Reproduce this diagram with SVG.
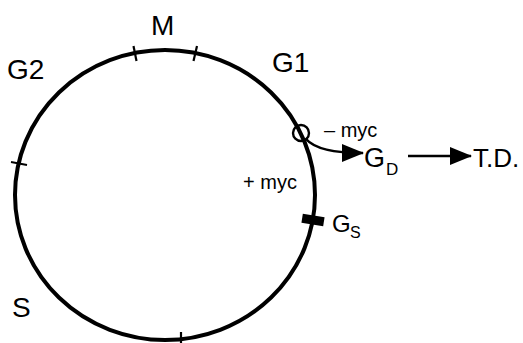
<svg xmlns="http://www.w3.org/2000/svg" width="523" height="343" viewBox="0 0 523 343">
<defs>
<style>
text{font-family:"Liberation Sans",Arial,sans-serif;fill:#000}
.lab{font-size:28px}
.myc{font-size:20px}
.tick{stroke:#000;stroke-width:2.2;fill:none}
.conn{stroke:#000;stroke-width:2.6;fill:none}
</style>
<marker id="ah" viewBox="0 0 22 18" refX="21" refY="9" markerWidth="22" markerHeight="18" markerUnits="userSpaceOnUse" orient="auto">
<path d="M0,0 L22,9 L0,18 Z" fill="#000"/>
</marker>
</defs>
<rect width="523" height="343" fill="#fff"/>
<g id="cycle">
<ellipse cx="165" cy="195" rx="150" ry="145" fill="none" stroke="#000" stroke-width="4"/>
<line class="tick" x1="133.5" y1="46" x2="136.5" y2="61"/>
<line class="tick" x1="197" y1="46" x2="193.5" y2="61"/>
<line class="tick" x1="11" y1="162" x2="27" y2="165"/>
<line class="tick" x1="181" y1="332" x2="181" y2="343"/>
</g>
<g id="M"><text class="lab" x="151" y="35">M</text></g>
<g id="G1"><text class="lab" x="272" y="72">G1</text></g>
<g id="G2"><text class="lab" x="7" y="79">G2</text></g>
<g id="S"><text class="lab" x="12" y="317">S</text></g>
<g id="restriction">
<circle cx="301" cy="133" r="8" fill="none" stroke="#000" stroke-width="2.4"/>
<text class="myc" x="324" y="137">– myc</text>
<text class="myc" x="243" y="189">+ myc</text>
</g>
<g id="GS">
<rect x="302" y="215.5" width="22" height="9" fill="#000" transform="rotate(9 313 220)"/>
<text x="332" y="232" style="font-size:24px">G</text>
<text x="350" y="238" style="font-size:16px">S</text>
</g>
<g id="GD">
<text x="364" y="167" style="font-size:27px">G</text>
<text x="386" y="175" style="font-size:17px">D</text>
</g>
<g id="TD"><text x="473" y="167" style="font-size:26px">T.D.</text></g>
<g id="connectors">
<path class="conn" d="M306,139 Q318,153 363,153" marker-end="url(#ah)"/>
<line class="conn" x1="408" y1="156" x2="471" y2="156" marker-end="url(#ah)"/>
</g>
</svg>
